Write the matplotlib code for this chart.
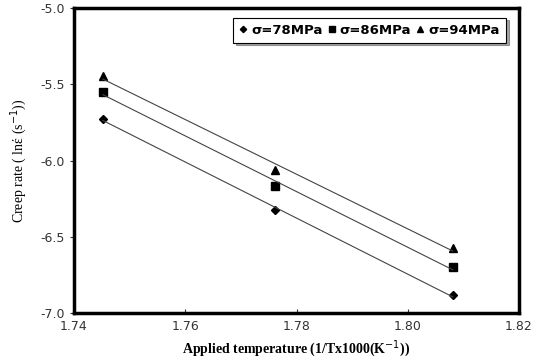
import numpy as np
import matplotlib
matplotlib.use("Agg")
import matplotlib.pyplot as plt

# inverse temperature (1/T x 1000) and ln(creep rate)
invT = [1.7452, 1.7761, 1.8081]
lnRate78 = [-5.728, -6.325, -6.885]
lnRate86 = [-5.551, -6.167, -6.700]
lnRate94 = [-5.446, -6.060, -6.574]
labels = ["σ=78MPa", "σ=86MPa", "σ=94MPa"]
markers = ["D", "s", "^"]
msizes = [4, 6, 6]

fig = plt.figure(figsize=(5.37, 3.63), dpi=100)
ax = fig.add_axes([74/537, 1 - 313/363, 445/537, 305/363])

x = np.array(invT)
for y, lab, m, ms in zip([lnRate78, lnRate86, lnRate94], labels, markers, msizes):
	ax.plot(x, y, linestyle="none", marker=m, color="black", markersize=ms, label=lab)
	k, b = np.polyfit(x, y, 1)
	ax.plot(x[[0, -1]], k*x[[0, -1]] + b, color="#444444", linewidth=0.8)

ax.set_xlim(1.74, 1.82)
ax.set_ylim(-7.0, -5.0)
ax.set_xticks([1.74, 1.76, 1.78, 1.80, 1.82])
ax.set_yticks([-7.0, -6.5, -6.0, -5.5, -5.0])
ax.xaxis.set_major_formatter(matplotlib.ticker.FormatStrFormatter("%.2f"))
ax.yaxis.set_major_formatter(matplotlib.ticker.FormatStrFormatter("%.1f"))
ax.tick_params(axis="x", direction="in", length=3, labelsize=9, colors="#333333", pad=5)
ax.tick_params(axis="y", direction="out", length=3, labelsize=9, colors="#333333")
for s in ax.spines.values():
	s.set_linewidth(2.5)

ax.set_xlabel("Applied temperature (1/Tx1000(K$^{-1}$))", family="Liberation Serif",
	fontweight="bold", fontsize=10, labelpad=4)
ax.set_ylabel("Creep rate ( lnέ (s$^{-1}$))", family="Liberation Serif", fontsize=10, labelpad=8)

leg = ax.legend(ncol=3, loc="upper right", bbox_to_anchor=(0.985, 0.99), fontsize=9.5,
	frameon=True, fancybox=False, shadow=True, handlelength=0.6, handletextpad=0.3,
	columnspacing=0.4, borderpad=0.45, markerscale=0.8)
leg.get_frame().set_edgecolor("black")
leg.get_frame().set_linewidth(0.8)
for t in leg.get_texts():
	t.set_fontweight("bold")

fig.savefig("out.png", dpi=100)
